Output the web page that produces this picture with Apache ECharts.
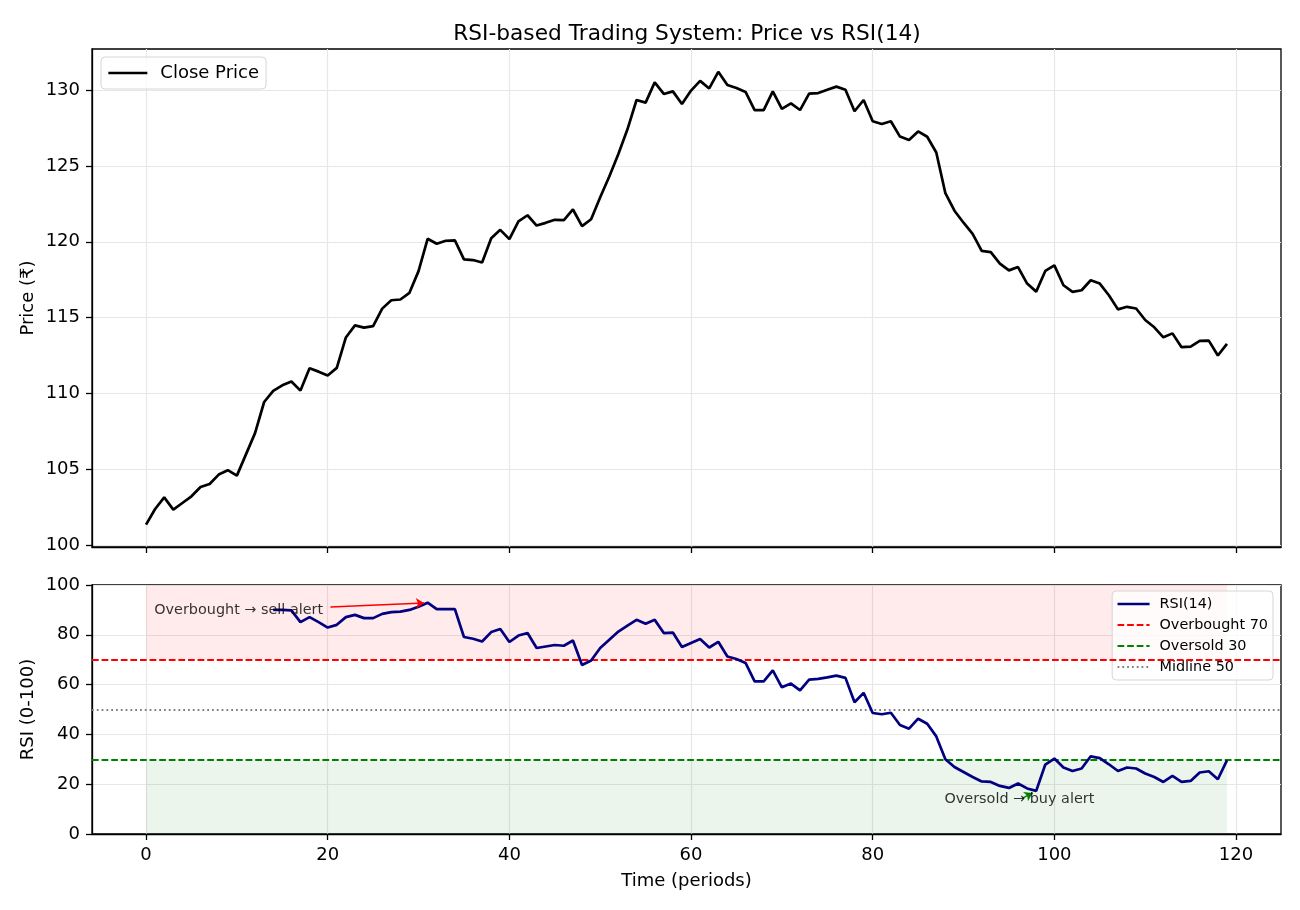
<!DOCTYPE html>
<html>
<head>
<meta charset="utf-8">
<script src="https://cdn.jsdelivr.net/npm/echarts@6/dist/echarts.min.js"></script>
<style>
  * { margin: 0; padding: 0; }
  body { background: #fff; }
  #chart { width: 1300px; height: 910px; }
</style>
</head>
<body>
<div id="chart"></div>
<script>
// close price per period (0..119)
const closePrice = [
  101.37, 102.4, 103.17, 102.36, 102.8, 103.24, 103.85, 104.05, 104.67, 104.96,
  104.6, 106.0, 107.4, 109.45, 110.18, 110.55, 110.8, 110.2, 111.67, 111.45,
  111.2, 111.7, 113.7, 114.5, 114.35, 114.45, 115.6, 116.15, 116.2, 116.64,
  118.07, 120.2, 119.87, 120.07, 120.09, 118.84, 118.8, 118.64, 120.24, 120.79,
  120.18, 121.34, 121.75, 121.07, 121.25, 121.45, 121.43, 122.13, 121.03, 121.49,
  122.94, 124.3, 125.79, 127.41, 129.34, 129.17, 130.5, 129.74, 129.91, 129.08,
  129.96, 130.6, 130.1, 131.2, 130.33, 130.13, 129.87, 128.68, 128.68, 129.91,
  128.75, 129.12, 128.68, 129.76, 129.8, 130.02, 130.22, 130.02, 128.6, 129.34,
  127.94, 127.76, 127.94, 126.93, 126.7, 127.27, 126.92, 125.88, 123.2, 122.05,
  121.26, 120.52, 119.4, 119.32, 118.56, 118.12, 118.34, 117.25, 116.72, 118.08,
  118.45, 117.14, 116.7, 116.81, 117.47, 117.25, 116.48, 115.55, 115.72, 115.61,
  114.85, 114.37, 113.71, 113.97, 113.06, 113.1, 113.47, 113.49, 112.51, 113.28
];

// RSI(14), undefined for the first 14 periods
const rsi14 = [
  null, null, null, null, null, null, null, null, null, null,
  null, null, null, null, 90.0, 90.0, 89.8, 85.1, 87.1, 85.1,
  82.9, 84.0, 87.1, 88.0, 86.7, 86.7, 88.4, 89.1, 89.3, 90.0,
  91.3, 92.9, 90.3, 90.3, 90.3, 79.1, 78.4, 77.3, 81.1, 82.3,
  77.1, 79.7, 80.7, 74.7, 75.3, 75.9, 75.6, 77.7, 67.9, 69.7,
  74.7, 78.0, 81.3, 83.7, 86.0, 84.4, 86.0, 80.7, 80.9, 75.1,
  76.7, 78.3, 74.9, 77.2, 71.3, 70.3, 68.7, 61.3, 61.3, 65.7,
  58.9, 60.4, 57.7, 62.0, 62.3, 62.9, 63.6, 62.7, 52.9, 56.7,
  48.6, 48.1, 48.7, 43.8, 42.3, 46.3, 44.3, 39.2, 30.0, 26.9,
  24.9, 22.9, 21.1, 20.9, 19.3, 18.5, 20.3, 18.3, 17.3, 27.9,
  30.3, 26.7, 25.3, 26.3, 31.2, 30.5, 28.0, 25.3, 26.7, 26.3,
  24.3, 22.9, 20.9, 23.3, 20.9, 21.3, 24.7, 25.2, 22.0, 29.6
];

const xTicks = [0, 20, 40, 60, 80, 100, 120];
const priceTicks = [100, 105, 110, 115, 120, 125, 130];
const rsiTicks = [0, 20, 40, 60, 80, 100];

const overbought = 70;
const oversold = 30;
const midline = 50;

// annotations: text anchor and arrow (from, to) in data units
const sellNote = [0.9, 90.0];
const sellArrow = [[20.3, 91.2], [30.6, 92.8]];
const buyNote = [87.9, 14.1];
const buyArrow = [[96.5, 14.4], [97.6, 16.5]];

const FONT = 'DejaVu Sans';
const xRange = [-5.95, 124.95];
const firstIdx = 0;
const lastIdx = closePrice.length - 1;

const priceData = closePrice.map((v, i) => [i, v]);
const rsiData = rsi14.map((v, i) => [i, v]);

const gridLine = { show: true, lineStyle: { color: '#e7e7e7', width: 1.2 } };
const axLine = { show: true, onZero: false, lineStyle: { color: '#000', width: 1.3 } };
const tick = (vals) => ({ show: true, inside: false, length: 6, lineStyle: { color: '#000', width: 1.3 }, customValues: vals });
const lbl = (vals) => ({ show: true, customValues: vals, color: '#000', fontFamily: FONT, fontSize: 18, margin: 12 });
// hide the symbol that line legends draw in the middle of the stroke
const noSymbol = { color: 'rgba(0,0,0,0)', borderWidth: 0, opacity: 0 };

var chart = echarts.init(document.getElementById('chart'), null, { renderer: 'canvas' });
const option = {
  animation: false,
  backgroundColor: '#fff',
  title: {
    text: 'RSI-based Trading System: Price vs RSI(14)',
    left: 682, top: 18, textAlign: 'center',
    textStyle: { fontFamily: FONT, fontSize: 21.7, fontWeight: 'normal', color: '#000' }
  },
  legend: [
    {
      data: [{ name: 'Close Price', lineStyle: { width: 2.7 } }],
      left: 101, top: 57,
      padding: [7, 7, 7, 6],
      itemWidth: 39, itemHeight: 14,
      itemStyle: noSymbol,
      backgroundColor: 'rgba(255,255,255,0.8)',
      borderColor: '#d6d6d6', borderWidth: 1, borderRadius: 4,
      textStyle: { fontFamily: FONT, fontSize: 18, color: '#000', padding: [0, 0, 0, 8] }
    },
    {
      data: [
        { name: 'RSI(14)', lineStyle: { width: 2.7 } },
        { name: 'Overbought 70', lineStyle: { width: 1.8 } },
        { name: 'Oversold 30', lineStyle: { width: 1.8 } },
        { name: 'Midline 50', lineStyle: { width: 1.8 } }
      ],
      orient: 'vertical',
      right: 27, top: 591,
      padding: [6, 5, 6, 4],
      itemWidth: 32, itemHeight: 14, itemGap: 7,
      itemStyle: noSymbol,
      backgroundColor: 'rgba(255,255,255,0.8)',
      borderColor: '#d6d6d6', borderWidth: 1, borderRadius: 4,
      textStyle: { fontFamily: FONT, fontSize: 14.4, color: '#000', padding: [0, 0, 0, 5] }
    }
  ],
  grid: [
    { left: 92, top: 49, width: 1189, height: 498, show: true, borderColor: '#000', borderWidth: 1.3 },
    { left: 92, top: 585, width: 1189, height: 249, show: true, borderColor: '#000', borderWidth: 1.3 }
  ],
  xAxis: [
    {
      type: 'value', gridIndex: 0, min: xRange[0], max: xRange[1], splitNumber: 6,
      axisLine: axLine, axisTick: tick(xTicks),
      axisLabel: { show: false }, splitLine: gridLine
    },
    {
      type: 'value', gridIndex: 1, min: xRange[0], max: xRange[1], splitNumber: 6,
      axisLine: axLine, axisTick: tick(xTicks), axisLabel: lbl(xTicks), splitLine: gridLine,
      name: 'Time (periods)', nameLocation: 'middle', nameGap: 38, nameMoveOverlap: false,
      nameTextStyle: { fontFamily: FONT, fontSize: 18, color: '#000' }
    }
  ],
  yAxis: [
    {
      type: 'value', gridIndex: 0, min: 99.9, max: 132.7,
      axisLine: axLine, axisTick: tick(priceTicks), axisLabel: lbl(priceTicks), splitLine: gridLine,
      name: 'Price (₹)', nameLocation: 'middle', nameGap: 55, nameMoveOverlap: false,
      nameTextStyle: { fontFamily: FONT, fontSize: 18, color: '#000' }
    },
    {
      type: 'value', gridIndex: 1, min: 0, max: 100, interval: 20,
      axisLine: axLine, axisTick: tick(rsiTicks), axisLabel: lbl(rsiTicks), splitLine: gridLine,
      name: 'RSI (0-100)', nameLocation: 'middle', nameGap: 55, nameMoveOverlap: false,
      nameTextStyle: { fontFamily: FONT, fontSize: 18, color: '#000' }
    }
  ],
  series: [
    {
      name: 'Close Price', type: 'line', xAxisIndex: 0, yAxisIndex: 0,
      data: priceData, symbol: 'none', color: '#000',
      lineStyle: { color: '#000', width: 2.7 }, z: 5
    },
    {
      name: 'zones', type: 'line', xAxisIndex: 1, yAxisIndex: 1, data: [],
      markArea: {
        silent: true,
        data: [
          [{ xAxis: firstIdx, yAxis: overbought, itemStyle: { color: 'rgba(255,0,0,0.08)' } }, { xAxis: lastIdx, yAxis: 100 }],
          [{ xAxis: firstIdx, yAxis: 0, itemStyle: { color: 'rgba(0,128,0,0.08)' } }, { xAxis: lastIdx, yAxis: oversold }]
        ]
      }
    },
    {
      name: 'Overbought 70', type: 'line', xAxisIndex: 1, yAxisIndex: 1, data: [],
      symbol: 'none', color: '#ff0000',
      lineStyle: { color: '#ff0000', width: 1.8, type: [6.7, 2.9] },
      markLine: {
        silent: true, symbol: 'none', label: { show: false },
        lineStyle: { color: '#ff0000', width: 1.8, type: [6.7, 2.9] },
        data: [{ yAxis: overbought }]
      }
    },
    {
      name: 'Oversold 30', type: 'line', xAxisIndex: 1, yAxisIndex: 1, data: [],
      symbol: 'none', color: '#008000',
      lineStyle: { color: '#008000', width: 1.8, type: [6.7, 2.9] },
      markLine: {
        silent: true, symbol: 'none', label: { show: false },
        lineStyle: { color: '#008000', width: 1.8, type: [6.7, 2.9] },
        data: [{ yAxis: oversold }]
      }
    },
    {
      name: 'Midline 50', type: 'line', xAxisIndex: 1, yAxisIndex: 1, data: [],
      symbol: 'none', color: '#808080',
      lineStyle: { color: '#808080', width: 1.8, type: [1.8, 3] },
      markLine: {
        silent: true, symbol: 'none', label: { show: false },
        lineStyle: { color: '#808080', width: 1.8, type: [1.8, 3] },
        data: [{ yAxis: midline }]
      }
    },
    {
      name: 'RSI(14)', type: 'line', xAxisIndex: 1, yAxisIndex: 1,
      data: rsiData, symbol: 'none', color: '#000080',
      lineStyle: { color: '#000080', width: 2.7 }, z: 5
    },
    {
      name: 'notes', type: 'scatter', xAxisIndex: 1, yAxisIndex: 1,
      symbolSize: 0, z: 6, silent: true,
      label: { show: true, position: 'right', distance: 0, formatter: '{b}', fontFamily: FONT, fontSize: 14.4, color: '#000' },
      data: [
        { name: 'Overbought → sell alert', value: sellNote },
        { name: 'Oversold → buy alert', value: buyNote }
      ]
    },
    {
      name: 'arrows', type: 'lines', coordinateSystem: 'cartesian2d', xAxisIndex: 1, yAxisIndex: 1,
      symbol: ['none', 'arrow'], symbolSize: 8, z: 6, silent: true,
      data: [
        { coords: sellArrow, lineStyle: { color: '#ff0000', width: 1.5, opacity: 1 } },
        { coords: buyArrow, lineStyle: { color: '#008000', width: 1.5, opacity: 1 } }
      ]
    }
  ]
};
chart.setOption(option);
window.addEventListener('resize', function () {
  chart.resize();
});
</script>
</body>
</html>
